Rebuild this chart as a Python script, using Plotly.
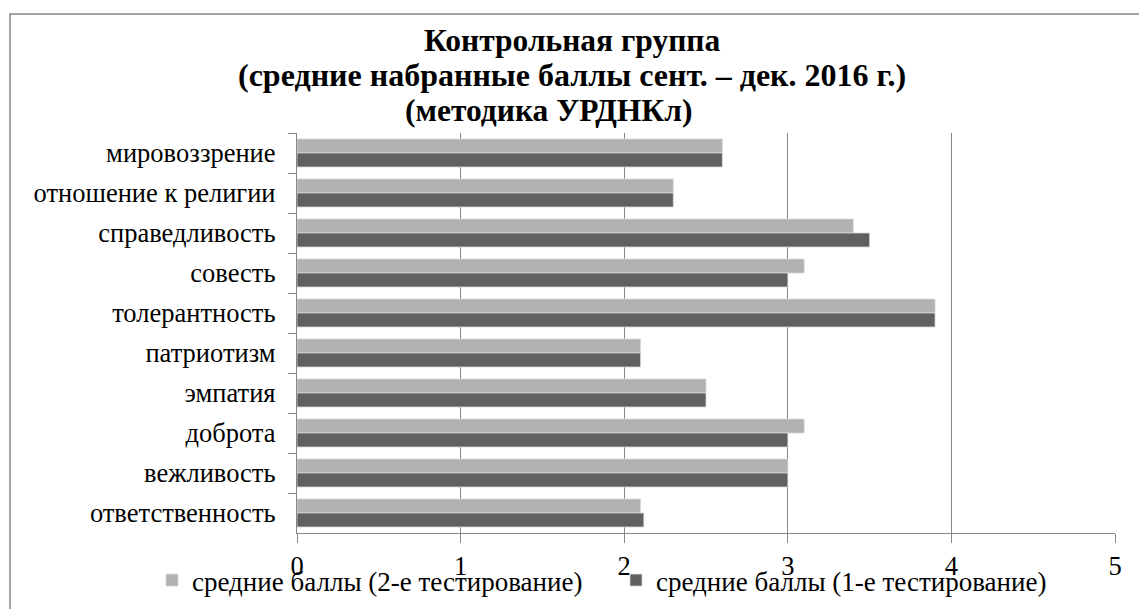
import plotly.graph_objects as go

categories = ["мировоззрение", "отношение к религии", "справедливость", "совесть",
              "толерантность", "патриотизм", "эмпатия", "доброта", "вежливость",
              "ответственность"]
test2 = [2.6, 2.3, 3.4, 3.1, 3.9, 2.1, 2.5, 3.1, 3.0, 2.1]
test1 = [2.6, 2.3, 3.5, 3.0, 3.9, 2.1, 2.5, 3.0, 3.0, 2.12]
name2 = "средние баллы (2-е тестирование)"
name1 = "средние баллы (1-е тестирование)"
x_ticks = [0, 1, 2, 3, 4, 5]
title_lines = ["Контрольная группа",
               "(средние набранные баллы сент. – дек. 2016 г.)",
               "(методика УРДНКл)"]

FONT = "Liberation Serif"
GRID = "#878787"
FS = 26.5

# page body has an 8px default margin; coordinates below are figure pixels
W, H = 1139, 601
L, R, T, B = 289, 32, 125, 76
PW, PH = W - L - R, H - T - B


def px_x(x):
    return (x - L) / PW


def px_y(y):
    return (H - B - y) / PH


fig = go.Figure()
fig.add_trace(go.Bar(y=categories, x=test2, name=name2, orientation="h",
                     marker=dict(color="#b2b2b2", line=dict(color="#d8d8d8", width=0.8))))
fig.add_trace(go.Bar(y=categories, x=test1, name=name1, orientation="h",
                     marker=dict(color="#606060", line=dict(color="#d8d8d8", width=0.8))))

title_pos = [(564, 32), (564, 67), (540, 102.5)]
title_sizes = [31.5, 32, 31.5]
annotations = [dict(text="<b>" + t + "</b>", xref="paper", yref="paper",
                    x=px_x(cx), y=px_y(cy), xanchor="center", yanchor="middle",
                    showarrow=False, font=dict(family=FONT, size=s, color="black"))
               for t, (cx, cy), s in zip(title_lines, title_pos, title_sizes)]

fig.update_layout(
    width=W, height=H,
    margin=dict(l=L, r=R, t=T, b=B, autoexpand=False),
    paper_bgcolor="white", plot_bgcolor="white",
    font=dict(family=FONT, size=FS, color="black"),
    barmode="group", bargap=0.3, bargroupgap=0,
    annotations=annotations,
    legend=dict(orientation="h", x=px_x(144), xanchor="left", y=px_y(548), yanchor="top",
                font=dict(family=FONT, size=27), entrywidth=419,
                bgcolor="rgba(0,0,0,0)"),
    shapes=[dict(type="rect", xref="paper", yref="paper",
                 x0=px_x(2), x1=px_x(1150), y0=px_y(610), y1=px_y(6),
                 line=dict(color=GRID, width=1.5), fillcolor="rgba(0,0,0,0)",
                 layer="below")],
)
fig.update_xaxes(range=[0, 5], tickvals=x_ticks, ticktext=[str(v) for v in x_ticks],
                 showgrid=True, gridcolor=GRID, gridwidth=1.3,
                 showline=True, linecolor=GRID, linewidth=1.3,
                 ticks="outside", ticklen=9, tickcolor=GRID, tickwidth=1.3,
                 zeroline=False, tickfont=dict(size=FS), ticklabelstandoff=0)
fig.update_yaxes(type="category", autorange="reversed", tickson="boundaries",
                 showline=True, linecolor=GRID, linewidth=1.3,
                 ticks="outside", ticklen=8, tickcolor=GRID, tickwidth=1.3,
                 showgrid=False, tickfont=dict(size=FS), ticklabelstandoff=15)

fig.write_html("out.html")
